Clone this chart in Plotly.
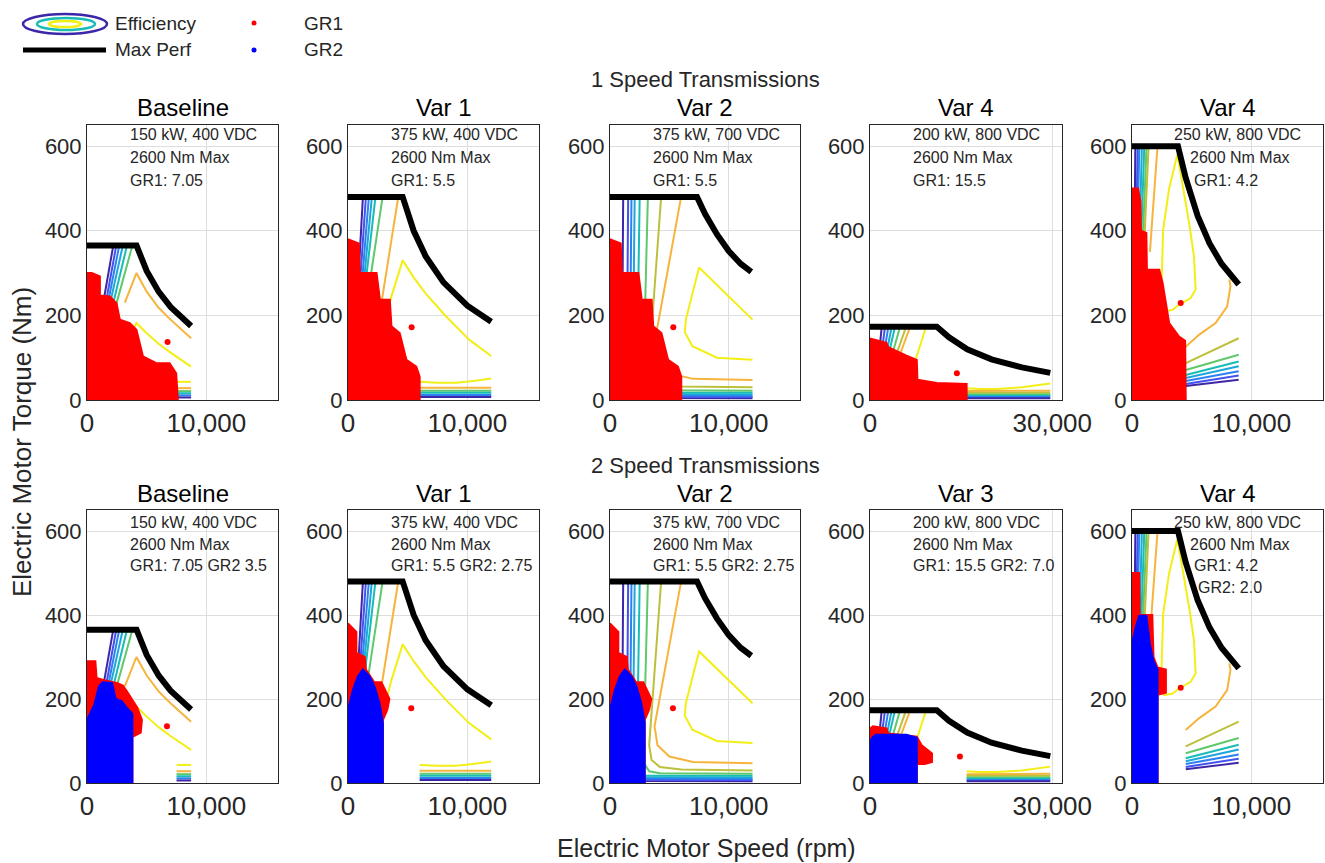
import plotly.graph_objects as go

W, H = 1325, 863

# ---------------- data ----------------
PANEL_TITLES = ["Baseline", "Var 1", "Var 2", "Var 4", "Var 4",
                "Baseline", "Var 1", "Var 2", "Var 3", "Var 4"]
ROW_TITLES = ["1 Speed Transmissions", "2 Speed Transmissions"]
INFO_TEXT = [
    ["150 kW, 400 VDC", "2600 Nm Max", "GR1: 7.05"],
    ["375 kW, 400 VDC", "2600 Nm Max", "GR1: 5.5"],
    ["375 kW, 700 VDC", "2600 Nm Max", "GR1: 5.5"],
    ["200 kW, 800 VDC", "2600 Nm Max", "GR1: 15.5"],
    ["250 kW, 800 VDC", "2600 Nm Max", "GR1: 4.2"],
    ["150 kW, 400 VDC", "2600 Nm Max", "GR1: 7.05 GR2 3.5"],
    ["375 kW, 400 VDC", "2600 Nm Max", "GR1: 5.5 GR2: 2.75"],
    ["375 kW, 700 VDC", "2600 Nm Max", "GR1: 5.5 GR2: 2.75"],
    ["200 kW, 800 VDC", "2600 Nm Max", "GR1: 15.5 GR2: 7.0"],
    ["250 kW, 800 VDC", "2600 Nm Max", "GR1: 4.2", "GR2: 2.0"],
]
X_TICKVALS = [[0, 10000], [0, 10000], [0, 10000], [0, 30000], [0, 10000]]
X_TICKTEXT = [["0", "10,000"], ["0", "10,000"], ["0", "10,000"], ["0", "30,000"], ["0", "10,000"]]
X_MAX = [16000, 16000, 16000, 31600, 16000]
Y_TICKVALS = [0, 200, 400, 600]
Y_TICKTEXT = ["0", "200", "400", "600"]

# max performance envelopes (per motor column)
MAXPERF_RPM = [
    [0, 4150, 5000, 6000, 7000, 8000, 8720],
    [0, 4580, 5500, 6500, 8000, 10000, 12000],
    [0, 7330, 8000, 9000, 10000, 11000, 11900],
    [0, 11000, 13000, 16000, 20000, 25000, 29670],
    [0, 3850, 4500, 5500, 6500, 7500, 8940],
]
MAXPERF_NM = [
    [365, 365, 305, 256, 220, 193, 175],
    [480, 480, 400, 340, 278, 223, 185],
    [480, 480, 440, 392, 352, 322, 303],
    [173, 173, 148, 120, 96, 77, 64],
    [600, 600, 525, 435, 370, 322, 273],
]

PARULA = ['#3e26a8', '#4352ee', '#2c80f2', '#1ca6dc', '#17bcb6',
          '#5fc86a', '#bcc03a', '#f7b43c', '#f2ee16']

# efficiency contours: (colour index, rpm list, Nm list)
CONT_BASE = [
    (0, [800, 2200], [140, 365]),
    (1, [1000, 2450], [140, 365]),
    (2, [1200, 2700], [150, 365]),
    (3, [1400, 3000], [160, 365]),
    (4, [1700, 3350], [170, 365]),
    (5, [2100, 3800], [190, 365]),
    (7, [3170, 4140, 5000, 6000, 7000, 8000, 8720], [230, 300, 256, 218, 190, 165, 146]),
    (8, [3300, 4140, 5000, 6000, 7000, 8000, 8720], [135, 182, 158, 133, 112, 93, 79]),
    (8, [7500, 8720], [43, 43]),
    (7, [7500, 8720], [28, 28]),
    (5, [7500, 8720], [21, 21]),
    (4, [7500, 8720], [16, 16]),
    (2, [7500, 8720], [11, 11]),
    (0, [7500, 8720], [6, 6]),
]
CONT_VAR1 = [
    (0, [600, 1250], [150, 480]),
    (1, [700, 1500], [150, 480]),
    (2, [800, 1750], [150, 480]),
    (3, [900, 2000], [150, 480]),
    (4, [1000, 2300], [160, 480]),
    (5, [1300, 2900], [180, 480]),
    (7, [2670, 4200], [206, 478]),
    (8, [3220, 3640, 4580, 5500, 6500, 8200, 10170, 12000], [198, 245, 330, 290, 252, 198, 142, 104]),
    (8, [6000, 7500, 9060, 10500, 12000], [43, 41, 41, 45, 51]),
    (7, [6000, 12000], [29, 29]),
    (5, [6000, 12000], [22, 22]),
    (4, [6000, 12000], [17, 17]),
    (2, [6000, 12000], [12, 12]),
    (0, [6000, 12000], [7, 7]),
]
CONT_VAR2 = [
    (0, [1110, 1000, 1400, 12000], [480, 15, 5, 4]),
    (1, [1530, 1400, 1900, 12000], [480, 20, 8, 7]),
    (2, [1810, 1650, 2200, 12000], [480, 25, 11, 10]),
    (3, [2080, 1900, 2500, 12000], [480, 30, 14, 13]),
    (4, [2500, 2250, 2900, 12000], [480, 35, 18, 17]),
    (5, [3190, 2800, 3300, 4200, 12000], [480, 50, 28, 23, 22]),
    (6, [4300, 3300, 3500, 4200, 6000, 12000], [477, 90, 55, 38, 32, 30]),
    (7, [5970, 4500, 3750, 4000, 5000, 7000, 12000], [477, 250, 135, 90, 63, 50, 47]),
    (8, [12000, 7500, 6390, 6300, 6940, 9000, 12000], [190, 313, 190, 160, 127, 100, 95]),
]
CONT_VAR4 = [
    (0, [1500, 1930], [110, 173]),
    (1, [1900, 2470], [110, 173]),
    (2, [2300, 3020], [110, 173]),
    (3, [2700, 3570], [110, 173]),
    (4, [3100, 4120], [110, 173]),
    (5, [3700, 4950], [110, 173]),
    (6, [4400, 5930], [110, 173]),
    (7, [5000, 6600], [110, 173]),
    (8, [7140, 9230], [79, 173]),
    (8, [15900, 18000, 21000, 25000, 29670], [28, 26, 26, 30, 39]),
    (7, [15900, 29670], [21, 22]),
    (6, [15900, 29670], [17, 17]),
    (5, [15900, 29670], [13, 13]),
    (4, [15900, 29670], [10, 10]),
    (2, [15900, 29670], [7, 7]),
    (0, [15900, 29670], [4, 4]),
]
CONT_VAR4B = [
    (0, [150, 280], [200, 600]),
    (1, [250, 470], [200, 600]),
    (2, [330, 610], [200, 600]),
    (3, [450, 830], [200, 600]),
    (4, [550, 1030], [200, 600]),
    (5, [650, 1220], [200, 600]),
    (6, [750, 1390], [200, 600]),
    (7, [1500, 2140], [350, 600]),
    (8, [3800, 3100, 2610, 2500, 2420, 2690, 3390, 3940, 4920, 5330, 5190, 4780, 4220, 3800],
        [581, 498, 403, 308, 221, 209, 213, 225, 241, 261, 340, 419, 514, 581]),
    (7, [4500, 5610, 7000, 7970, 8250, 8150], [126, 154, 182, 221, 269, 285]),
    (6, [4500, 8940], [87, 146]),
    (5, [4500, 8940], [71, 107]),
    (4, [4500, 8940], [59, 91]),
    (3, [4500, 8940], [52, 80]),
    (2, [4500, 8940], [45, 68]),
    (1, [4500, 8940], [38, 58]),
    (0, [4500, 8940], [33, 48]),
]
CONTOURS = [CONT_BASE, CONT_VAR1, CONT_VAR2, CONT_VAR4, CONT_VAR4B]

# operating point clouds (outline of the dense marker region), per panel
GR1_RPM = [
    [0, 0, 400, 1080, 1080, 1920, 2470, 2750, 3580, 4140, 4690, 5800, 6920, 7470, 7610],
    [0, 0, 900, 1000, 2390, 2670, 3500, 3640, 4330, 4890, 5720, 6000, 6000],
    [0, 0, 900, 1000, 2390, 2670, 3500, 3640, 4330, 4890, 5720, 6000, 6000],
    [0, 0, 2700, 3000, 6000, 7700, 7800, 11000, 15900, 15900],
    [0, 0, 500, 700, 750, 1200, 1250, 2280, 2560, 2830, 3110, 3940, 4450, 4500],
    [0, 0, 700, 800, 1450, 2500, 3000, 3300, 4200, 4600, 4500, 3800, 3800],
    [0, 0, 700, 700, 1400, 1500, 2200, 2800, 3470, 3300, 2920, 2920],
    [0, 0, 700, 700, 1400, 1500, 2200, 2800, 3470, 3300, 2920, 2920],
    [0, 0, 500, 2700, 3000, 7700, 8500, 10200, 10200, 9000, 7700, 7700],
    [0, 0, 600, 650, 1700, 1800, 2140, 2840, 2840, 2140, 2140],
]
GR1_NM = [
    [0, 300, 300, 292, 247, 245, 229, 190, 182, 166, 103, 87, 87, 63, 0],
    [0, 380, 370, 300, 300, 237, 237, 174, 158, 95, 79, 55, 0],
    [0, 380, 370, 300, 300, 237, 237, 174, 158, 95, 79, 55, 0],
    [0, 145, 135, 125, 105, 95, 48, 40, 38, 0],
    [0, 500, 500, 470, 400, 395, 308, 308, 277, 229, 182, 150, 140, 0],
    [0, 290, 290, 250, 245, 238, 232, 220, 180, 150, 120, 110, 0],
    [0, 380, 360, 310, 300, 270, 240, 240, 200, 175, 150, 0],
    [0, 380, 360, 310, 300, 270, 240, 240, 200, 175, 150, 0],
    [0, 130, 135, 130, 118, 110, 90, 70, 50, 45, 45, 0],
    [0, 500, 500, 400, 400, 300, 275, 270, 215, 210, 0],
]
GR1_OUT_RPM = [[6750], [5330], [5330], [14300], [4080], [6700], [5300], [5300], [14800], [4080]]
GR1_OUT_NM = [[137], [172], [172], [63], [229], [135], [178], [178], [63], [227]]

GR2_RPM = [None, None, None, None, None,
           [0, 0, 600, 1000, 1300, 2100, 2400, 2900, 3300, 3800, 3800],
           [0, 0, 420, 830, 1250, 1800, 2220, 2640, 2920, 2920],
           [0, 0, 420, 830, 1250, 1800, 2220, 2640, 2920, 2920],
           [0, 0, 500, 1000, 6000, 7700, 7700],
           [0, 0, 300, 600, 1200, 1500, 1800, 2140, 2140]]
GR2_NM = [None, None, None, None, None,
          [0, 150, 185, 230, 240, 238, 200, 195, 180, 165, 0],
          [0, 175, 222, 254, 270, 254, 230, 190, 143, 0],
          [0, 175, 222, 254, 270, 254, 230, 190, 143, 0],
          [0, 100, 110, 115, 115, 108, 0],
          [0, 330, 370, 398, 398, 330, 290, 270, 0]]

# ---------------- layout geometry (pixels) ----------------
X_PIX = [(87, 278), (348, 539), (610, 800), (870, 1062), (1132, 1323)]
Y_PIX = [(125, 400), (510, 783)]

FONT = "Liberation Sans, Arial, sans-serif"
TXT = "#262626"


def px(x):
    return x / W


def py(y):
    return 1 - y / H


fig = go.Figure()
layout = dict(template="none", width=W, height=H,
              margin=dict(l=0, r=0, t=0, b=0, pad=0, autoexpand=False), autosize=False,
              paper_bgcolor="white", plot_bgcolor="white", showlegend=False,
              font=dict(family=FONT, color=TXT))
annotations = []
shapes = []

for i in range(10):
    row, col = divmod(i, 5)
    n = i + 1
    xs = "" if n == 1 else str(n)
    xref, yref = "x" + xs, "y" + xs
    x0p, x1p = X_PIX[col]
    y0p, y1p = Y_PIX[row]
    layout["xaxis" + xs] = dict(
        domain=[px(x0p), px(x1p)], range=[0, X_MAX[col]], anchor=yref,
        tickvals=X_TICKVALS[col], ticktext=X_TICKTEXT[col], automargin=False,
        tickfont=dict(size=26, color=TXT, family=FONT),
        showgrid=True, gridcolor="#dedede", gridwidth=1, zeroline=False,
        showline=True, mirror=True, linecolor="#262626", linewidth=1,
        ticks="", fixedrange=True)
    layout["yaxis" + xs] = dict(
        domain=[py(y1p), py(y0p)], range=[0, 650], anchor=xref,
        tickvals=Y_TICKVALS, ticktext=Y_TICKTEXT, automargin=False,
        tickfont=dict(size=22, color=TXT, family=FONT),
        showgrid=True, gridcolor="#dedede", gridwidth=1, zeroline=False,
        showline=True, mirror=True, linecolor="#262626", linewidth=1,
        ticks="", fixedrange=True)

    for ci, rr, tt in CONTOURS[col]:
        fig.add_trace(go.Scatter(x=rr, y=tt, mode="lines", xaxis=xref, yaxis=yref,
                                 line=dict(color=PARULA[ci], width=2), hoverinfo="skip"))
    fig.add_trace(go.Scatter(x=MAXPERF_RPM[col], y=MAXPERF_NM[col], mode="lines",
                             xaxis=xref, yaxis=yref,
                             line=dict(color="black", width=6), hoverinfo="skip"))
    fig.add_trace(go.Scatter(x=GR1_RPM[i], y=GR1_NM[i], mode="lines", fill="toself",
                             fillcolor="#ff0000", xaxis=xref, yaxis=yref,
                             line=dict(color="#ff0000", width=2), hoverinfo="skip"))
    fig.add_trace(go.Scatter(x=GR1_OUT_RPM[i], y=GR1_OUT_NM[i], mode="markers",
                             xaxis=xref, yaxis=yref,
                             marker=dict(color="#ff0000", size=6), hoverinfo="skip"))
    if GR2_RPM[i] is not None:
        fig.add_trace(go.Scatter(x=GR2_RPM[i], y=GR2_NM[i], mode="lines", fill="toself",
                                 fillcolor="#0000ff", xaxis=xref, yaxis=yref,
                                 line=dict(color="#0000ff", width=2), hoverinfo="skip"))

    annotations.append(dict(text=PANEL_TITLES[i], xref="paper", yref="paper",
                            x=px((x0p + x1p) / 2), y=py(y0p - 17), xanchor="center",
                            yanchor="middle", showarrow=False,
                            font=dict(size=24, color="black", family=FONT)))
    line_y = [134, 157, 180] if row == 0 else [522, 544, 565, 587]
    offs = [40, 56, 60, 64] if col == 4 else [41, 41, 41, 41]
    for k, t in enumerate(INFO_TEXT[i]):
        annotations.append(dict(text=t, xref="paper", yref="paper",
                                x=px(x0p + offs[k]), y=py(line_y[k]), xanchor="left",
                                yanchor="middle", showarrow=False,
                                font=dict(size=16, color=TXT, family=FONT)))

for r, yy in enumerate([79, 465]):
    annotations.append(dict(text=ROW_TITLES[r], xref="paper", yref="paper",
                            x=px(705), y=py(yy), xanchor="center", yanchor="middle",
                            showarrow=False, font=dict(size=22, color=TXT, family=FONT)))
annotations.append(dict(text="Electric Motor Torque (Nm)", xref="paper", yref="paper",
                        x=px(22), y=py(442), textangle=-90, xanchor="center",
                        yanchor="middle", showarrow=False,
                        font=dict(size=26, color=TXT, family=FONT)))
annotations.append(dict(text="Electric Motor Speed (rpm)", xref="paper", yref="paper",
                        x=px(706), y=py(848), xanchor="center", yanchor="middle",
                        showarrow=False, font=dict(size=25, color=TXT, family=FONT)))

# legend (drawn manually)
for (ex0, ey0, ex1, ey1, c) in [(23, 14, 107, 34, "#3e26a8"),
                                (37, 18, 95, 30, "#17bcb6"),
                                (49, 21, 81, 27, "#f2ee16")]:
    shapes.append(dict(type="circle", xref="paper", yref="paper",
                       x0=px(ex0), x1=px(ex1), y0=py(ey1), y1=py(ey0),
                       line=dict(color=c, width=2.5)))
shapes.append(dict(type="line", xref="paper", yref="paper", x0=px(23), x1=px(106),
                   y0=py(50), y1=py(50), line=dict(color="black", width=5)))
for (cx, cy, c) in [(254, 23, "#ff0000"), (254, 50, "#0000ff")]:
    shapes.append(dict(type="circle", xref="paper", yref="paper",
                       x0=px(cx - 2.5), x1=px(cx + 2.5), y0=py(cy + 2.5), y1=py(cy - 2.5),
                       fillcolor=c, line=dict(color=c, width=0)))
for (tx, ty, t) in [(113, 24, "Efficiency"), (113, 50, "Max Perf"),
                    (302, 24, "GR1"), (302, 50, "GR2")]:
    annotations.append(dict(text=t, xref="paper", yref="paper", x=px(tx), y=py(ty),
                            xanchor="left", yanchor="middle", showarrow=False,
                            font=dict(size=19, color=TXT, family=FONT)))

layout["annotations"] = annotations
layout["shapes"] = shapes
fig.update_layout(**layout)
fig.write_html("out.html", config={"responsive": False},
               post_script="document.body.style.margin='0px';"
                           "document.documentElement.style.overflow='hidden';"
                           "document.body.style.overflow='hidden';")
